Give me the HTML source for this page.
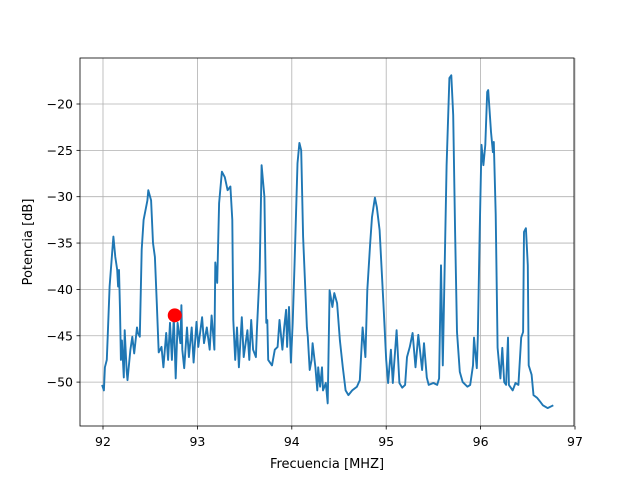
<!DOCTYPE html>
<html><head><meta charset="utf-8"><style>
body{margin:0;background:#fff}
svg{display:block;font-family:"DejaVu Sans","Liberation Sans",sans-serif}
</style></head><body>
<svg id="chart" width="640" height="480" viewBox="0 0 640 480">
<rect width="640" height="480" fill="#fff"/>
<g id="grid"></g>
<g id="ticks"></g>
<g id="series"></g>
<rect x="80" y="58" width="494" height="368" fill="none" stroke="#000" stroke-width="0.8"/>
<text x="327" y="468" font-size="13" text-anchor="middle">Frecuencia [MHZ]</text>
<text transform="translate(32,242) rotate(-90)" font-size="13" text-anchor="middle">Potencia [dB]</text>
</svg>
<script>
const freq=[91.99,92.01,92.02,92.04,92.05,92.07,92.10,92.11,92.13,92.15,92.16,92.17,92.18,92.19,92.20,92.22,92.23,92.25,92.26,92.29,92.31,92.33,92.36,92.37,92.39,92.41,92.43,92.47,92.48,92.51,92.53,92.55,92.57,92.59,92.62,92.64,92.67,92.69,92.71,92.73,92.75,92.77,92.79,92.82,92.83,92.84,92.86,92.89,92.91,92.94,92.96,92.99,93.01,93.05,93.07,93.10,93.13,93.15,93.18,93.19,93.21,93.23,93.26,93.29,93.32,93.35,93.37,93.38,93.40,93.42,93.44,93.47,93.49,93.53,93.55,93.57,93.59,93.62,93.63,93.66,93.68,93.71,93.73,93.74,93.75,93.79,93.82,93.85,93.87,93.90,93.92,93.94,93.95,93.97,93.99,94.01,94.03,94.06,94.08,94.10,94.12,94.16,94.17,94.19,94.21,94.22,94.25,94.27,94.28,94.30,94.32,94.33,94.36,94.38,94.40,94.43,94.45,94.48,94.51,94.54,94.57,94.60,94.64,94.69,94.72,94.75,94.78,94.80,94.83,94.85,94.88,94.90,94.93,94.97,95.00,95.02,95.05,95.07,95.11,95.14,95.17,95.20,95.22,95.25,95.28,95.31,95.34,95.38,95.40,95.43,95.45,95.50,95.54,95.56,95.58,95.60,95.62,95.64,95.67,95.69,95.71,95.73,95.75,95.78,95.81,95.86,95.89,95.92,95.93,95.96,95.97,95.99,96.01,96.03,96.05,96.07,96.08,96.11,96.13,96.14,96.16,96.18,96.21,96.23,96.25,96.27,96.29,96.30,96.34,96.37,96.40,96.43,96.45,96.46,96.48,96.50,96.51,96.54,96.56,96.60,96.63,96.66,96.71,96.77];
const power=[-50.3,-50.9,-48.4,-47.6,-45.1,-39.7,-35.7,-34.3,-36.5,-37.9,-39.7,-37.9,-42.2,-47.6,-45.5,-49.5,-44.4,-48.7,-49.8,-46.5,-45.1,-46.9,-44.1,-44.7,-45.1,-35.7,-32.5,-30.4,-29.3,-30.4,-35.0,-36.5,-41.5,-46.8,-46.2,-48.4,-44.7,-47.6,-43.6,-47.6,-43.0,-49.6,-43.6,-45.8,-41.7,-46.5,-48.5,-44.1,-47.3,-44.1,-47.9,-43.5,-46.2,-43.0,-45.8,-44.1,-46.5,-42.8,-46.5,-37.1,-39.3,-30.7,-27.3,-27.9,-29.3,-28.9,-32.5,-43.3,-47.6,-44.1,-48.4,-43.0,-47.3,-44.4,-47.6,-43.3,-46.5,-47.3,-44.4,-37.9,-26.6,-30.0,-43.6,-43.3,-47.6,-48.2,-46.5,-46.2,-43.3,-46.5,-44.1,-42.2,-46.2,-41.9,-47.9,-43.6,-37.1,-26.4,-24.2,-25.0,-34.3,-44.1,-45.1,-48.7,-47.6,-45.8,-48.4,-50.9,-48.4,-50.5,-48.4,-50.9,-50.1,-52.3,-40.1,-41.9,-40.4,-41.5,-45.5,-48.4,-50.9,-51.4,-50.9,-50.5,-49.8,-44.1,-47.3,-40.1,-35.0,-32.2,-30.1,-31.1,-33.6,-41.5,-47.6,-50.1,-46.5,-50.1,-44.4,-50.1,-50.6,-50.3,-47.3,-46.2,-44.7,-48.4,-44.9,-48.7,-45.8,-49.5,-50.3,-50.1,-50.3,-49.6,-37.4,-48.2,-37.4,-26.6,-17.2,-16.9,-21.2,-33.8,-44.6,-48.9,-50.0,-50.5,-50.3,-48.2,-45.2,-48.5,-45.2,-33.8,-24.4,-26.6,-24.4,-18.7,-18.5,-23.0,-25.2,-24.1,-31.9,-46.3,-49.6,-46.3,-50.0,-50.3,-45.2,-50.3,-50.9,-50.1,-50.3,-45.2,-44.6,-33.8,-33.4,-37.4,-48.2,-49.2,-51.4,-51.7,-52.1,-52.5,-52.8,-52.5];
const markerFreq=[92.76];
const markerPower=[-42.8];
const xTicks=[92,93,94,95,96,97];
const yTicks=[-20,-25,-30,-35,-40,-45,-50];

const NS="http://www.w3.org/2000/svg";
function X(f){return 103+(f-92)*94.4;}
function Y(d){return 104-(d+20)*9.27;}
function mk(tag,attrs,parent){const e=document.createElementNS(NS,tag);for(const k in attrs)e.setAttribute(k,attrs[k]);parent.appendChild(e);return e;}
const grid=document.getElementById('grid'),ticks=document.getElementById('ticks'),series=document.getElementById('series');
xTicks.forEach(t=>{
  const x=X(t);
  const g=mk('line',{x1:x,x2:x,y1:58,y2:426,stroke:'#b0b0b0','stroke-width':0.8},grid);
  
  
  mk('line',{x1:x,x2:x,y1:426,y2:429.5,stroke:'#000','stroke-width':0.8},ticks);
  const l=mk('text',{x:x,y:446,'font-size':12.5,'text-anchor':'middle'},ticks);
  l.textContent=t;
  
  
});
yTicks.forEach(t=>{
  const y=Y(t);
  const g=mk('line',{x1:80,x2:574,y1:y,y2:y,stroke:'#b0b0b0','stroke-width':0.8},grid);
  
  
  mk('line',{x1:76.5,x2:80,y1:y,y2:y,stroke:'#000','stroke-width':0.8},ticks);
  const l=mk('text',{x:73,y:y+4.5,'font-size':12.5,'text-anchor':'end'},ticks);
  l.textContent='\u2212'+Math.abs(t);
  
  
});
const pts=freq.map((f,i)=>X(f).toFixed(1)+','+Y(power[i]).toFixed(1)).join(' ');
const line=mk('polyline',{points:pts,fill:'none',stroke:'#1f77b4','stroke-width':1.9,'stroke-linejoin':'round'},series);


markerFreq.forEach((f,i)=>{
  const c=mk('circle',{cx:X(f),cy:Y(markerPower[i]),r:7,fill:'#ff0000'},series);
  
  
});
</script>
</body></html>
